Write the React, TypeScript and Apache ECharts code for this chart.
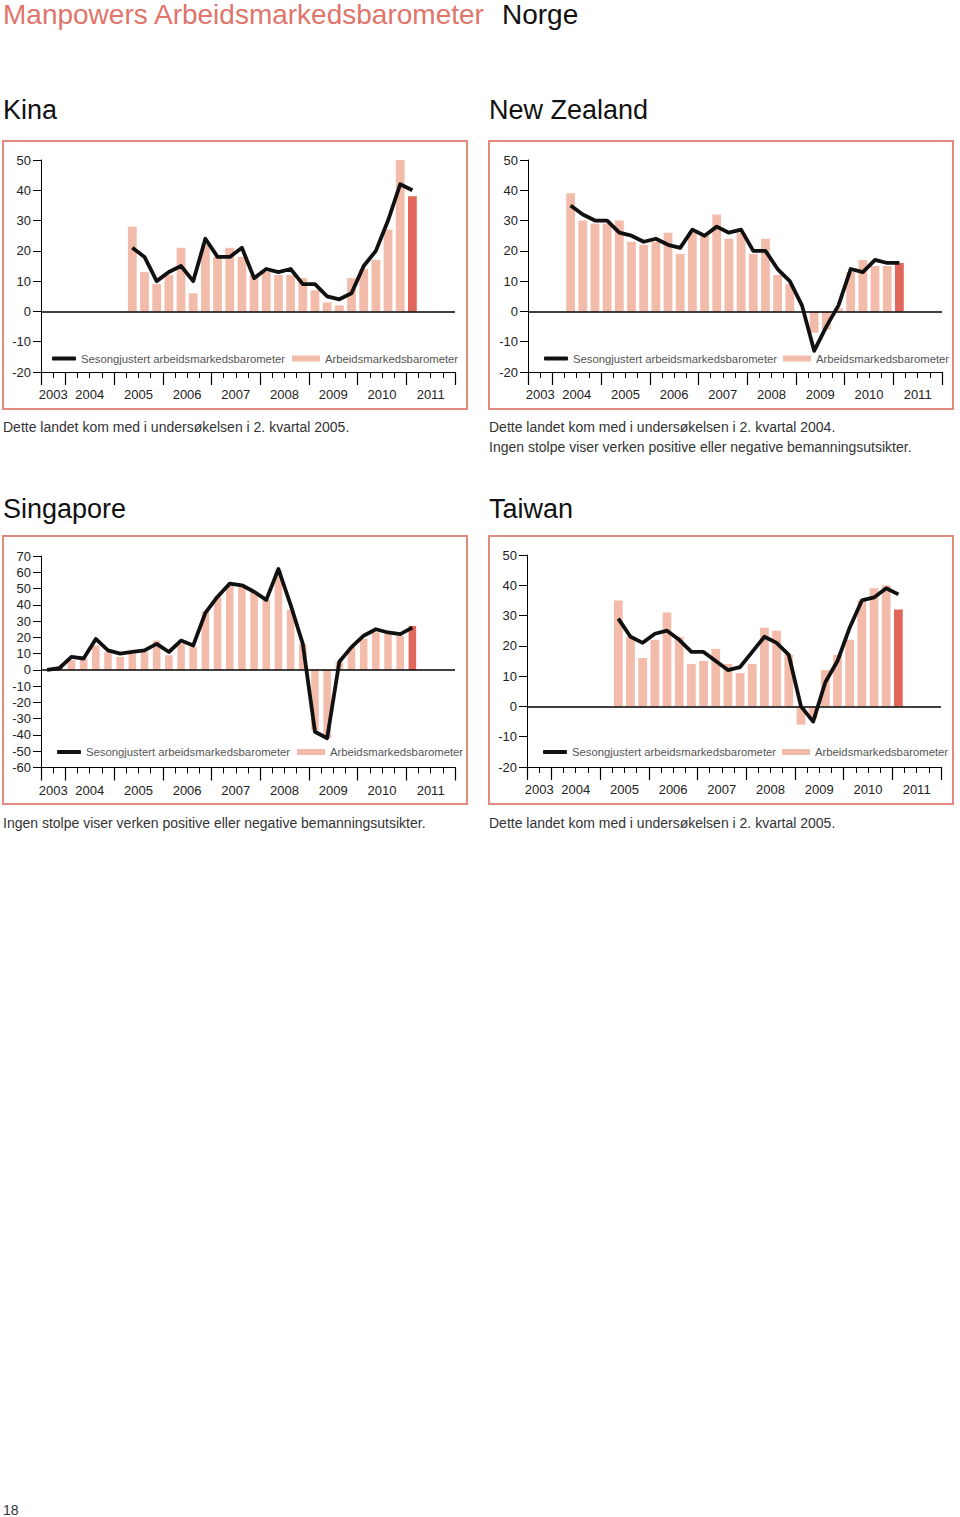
import React, { useEffect, useRef } from "react";
import * as echarts from "echarts";

// ---------- categories ----------
const firstYear = 2003;
const lastYear = 2011;
const firstQuarterOfFirstYear = 3;
const quarterLabels: string[] = [];
for (let y = firstYear; y <= lastYear; y++) {
  for (let q = 1; q <= 4; q++) {
    if (y === firstYear && q < firstQuarterOfFirstYear) continue;
    quarterLabels.push(`${y} K${q}`);
  }
}
const yearLabels = ["2003", "2004", "2005", "2006", "2007", "2008", "2009", "2010", "2011"];
const latestQuarter = "2011 K1";

// ---------- series values ----------
const kinaStart = "2005 K2";
const kinaBars = [28, 13, 9, 12, 21, 6, 22, 18, 21, 18, 12, 13, 12, 12, 11, 7, 3, 2, 11, 14, 17, 27, 51, 38];
const kinaLine = [21, 18, 10, 13, 15, 10, 24, 18, 18, 21, 11, 14, 13, 14, 9, 9, 5, 4, 6, 15, 20, 30, 42, 40];

const nzStart = "2004 K2";
const nzBars = [39, 30, 29, 29, 30, 23, 22, 23, 26, 19, 26, 25, 32, 24, 26, 19, 24, 12, 9, 0, -7, -6, 1, 13, 17, 15, 15, 16];
const nzLine = [35, 32, 30, 30, 26, 25, 23, 24, 22, 21, 27, 25, 28, 26, 27, 20, 20, 14, 10, 2, -13, -5, 2, 14, 13, 17, 16, 16];

const sgStart = "2003 K3";
const sgBars = [0, 2, 6, 7, 15, 11, 8, 10, 11, 18, 9, 16, 14, 36, 45, 52, 51, 48, 43, 61, 37, 16, -37, -42, 5, 14, 19, 23, 23, 21, 27];
const sgLine = [0, 1, 8, 7, 19, 12, 10, 11, 12, 16, 11, 18, 15, 35, 45, 53, 52, 48, 43, 62, 40, 16, -38, -42, 5, 14, 21, 25, 23, 22, 26];

const twStart = "2005 K2";
const twBars = [35, 23, 16, 22, 31, 23, 14, 15, 19, 14, 11, 14, 26, 25, 17, -6, -4, 12, 17, 22, 35, 39, 40, 32];
const twLine = [29, 23, 21, 24, 25, 22, 18, 18, 15, 12, 13, 18, 23, 21, 17, 0, -5, 8, 15, 26, 35, 36, 39, 37];

const lineName = "Sesongjustert arbeidsmarkedsbarometer";
const barName = "Arbeidsmarkedsbarometer";

const mainTitle = "Manpowers Arbeidsmarkedsbarometer";
const mainTitleCountry = "Norge";
const noteJoined2005 = "Dette landet kom med i undersøkelsen i 2. kvartal 2005.";
const noteJoined2004 = "Dette landet kom med i undersøkelsen i 2. kvartal 2004.";
const noteNoBar = "Ingen stolpe viser verken positive eller negative bemanningsutsikter.";
const pageNumber = "18";

const countries = [
  { name: "Kina", start: kinaStart, bars: kinaBars, line: kinaLine, yMin: -20, yMax: 50, notes: [noteJoined2005] },
  { name: "New Zealand", start: nzStart, bars: nzBars, line: nzLine, yMin: -20, yMax: 50, notes: [noteJoined2004, noteNoBar] },
  { name: "Singapore", start: sgStart, bars: sgBars, line: sgLine, yMin: -60, yMax: 70, notes: [noteNoBar] },
  { name: "Taiwan", start: twStart, bars: twBars, line: twLine, yMin: -20, yMax: 50, notes: [noteJoined2005] },
];

// ---------- layout & style ----------
const layouts = [
  { frameX: 3, frameY: 141, gridLeft: 41, gridTop: 160, gridH: 212, titleY: 110, legendY: 358.5, legendLineX: 52, legendBarX: 292, noteY: 427, barW: "72%" },
  { frameX: 489, frameY: 141, gridLeft: 528, gridTop: 160, gridH: 212, titleY: 110, legendY: 358.5, legendLineX: 544, legendBarX: 783, noteY: 427, barW: "72%" },
  { frameX: 3, frameY: 536, gridLeft: 41, gridTop: 556, gridH: 211.5, titleY: 509, legendY: 752, legendLineX: 57, legendBarX: 297, noteY: 823, barW: "62%" },
  { frameX: 489, frameY: 536, gridLeft: 527, gridTop: 555, gridH: 212, titleY: 509, legendY: 752, legendLineX: 543, legendBarX: 782, noteY: 823, barW: "72%" },
];
const GRID_W = 414;
const FRAME_W = 464;
const FRAME_H = 268;
const FONT = "'Liberation Sans', Arial, Helvetica, sans-serif";
const PALE = "#f3bba9";
const DARK = "#e0675a";
const FRAME = "#e38a7e";
const TITLE_RED = "#e0756b";
const TEXT = "#222";

function buildOption() {
  const n = quarterLabels.length;
  const allBounds = Array.from({ length: n + 1 }, (_, i) => i);
  const yearBounds: number[] = [0];
  for (let i = 1; i < n; i++) {
    if (quarterLabels[i].slice(0, 4) !== quarterLabels[i - 1].slice(0, 4)) yearBounds.push(i);
  }
  yearBounds.push(n);
  const yearCenters = yearLabels.map((_, k) => (yearBounds[k] + yearBounds[k + 1]) / 2);
  const yearByCenter = (v: number) => {
    const k = yearCenters.findIndex((c) => Math.abs(c - v) < 1e-6);
    return k >= 0 ? yearLabels[k] : "";
  };
  const latestIdx = quarterLabels.indexOf(latestQuarter);

  const grid: any[] = [];
  const xAxis: any[] = [];
  const yAxis: any[] = [];
  const series: any[] = [];
  const legend: any[] = [];
  const graphic: any[] = [];

  graphic.push({ type: "text", left: 3, top: 0, style: { text: mainTitle, fill: TITLE_RED, font: `28px ${FONT}` } });
  graphic.push({ type: "text", left: 502, top: 0, style: { text: mainTitleCountry, fill: "#111", font: `28px ${FONT}` } });
  graphic.push({ type: "text", left: 3, top: 1503, style: { text: pageNumber, fill: "#333", font: `14px ${FONT}` } });

  countries.forEach((c, g) => {
    const L = layouts[g];
    const s = quarterLabels.indexOf(c.start);
    const barData: any[] = quarterLabels.map((q, i) => {
      const k = i - s;
      if (k < 0 || k >= c.bars.length) return null;
      if (i === latestIdx) return { value: c.bars[k], itemStyle: { color: DARK } };
      return c.bars[k];
    });
    const lineData: any[] = quarterLabels.map((q, i) => {
      const k = i - s;
      if (k < 0 || k >= c.line.length) return null;
      return c.line[k];
    });

    grid.push({ left: L.gridLeft, top: L.gridTop, width: GRID_W, height: L.gridH, containLabel: false });
    xAxis.push({
      type: "category", gridIndex: g, data: quarterLabels, boundaryGap: true, position: "bottom",
      axisLine: { show: true, onZero: false, lineStyle: { color: "#000", width: 1 } },
      axisTick: { show: false }, axisLabel: { show: false }, splitLine: { show: false },
    });
    xAxis.push({
      type: "value", gridIndex: g, min: 0, max: n, position: "bottom",
      axisLine: { show: false, onZero: false },
      axisTick: { show: true, length: 6, customValues: allBounds, lineStyle: { color: "#000", width: 1 } },
      axisLabel: { show: false }, splitLine: { show: false },
    });
    xAxis.push({
      type: "value", gridIndex: g, min: 0, max: n, position: "bottom",
      axisLine: { show: false, onZero: false },
      axisTick: { show: true, length: 13, customValues: yearBounds, lineStyle: { color: "#000", width: 1.2 } },
      axisLabel: { show: true, customValues: yearCenters, formatter: (v: number) => yearByCenter(v), margin: 16, fontSize: 13, color: TEXT, fontFamily: FONT },
      splitLine: { show: false },
    });
    yAxis.push({
      type: "value", gridIndex: g, min: c.yMin, max: c.yMax, interval: 10,
      axisLine: { show: true, onZero: false, lineStyle: { color: "#000", width: 1 } },
      axisTick: { show: true, length: 8, lineStyle: { color: "#000", width: 1 } },
      axisLabel: { margin: 10, fontSize: 13, color: TEXT, fontFamily: FONT },
      splitLine: { show: false },
    });
    series.push({
      type: "bar", name: barName, xAxisIndex: g * 3, yAxisIndex: g, data: barData, barWidth: L.barW,
      itemStyle: { color: PALE }, z: 2,
      markLine: {
        silent: true, symbol: "none", label: { show: false },
        lineStyle: { color: "#000", width: 1.5, type: "solid" },
        data: [{ yAxis: 0 }],
      },
    });
    series.push({
      type: "line", name: lineName, xAxisIndex: g * 3, yAxisIndex: g, data: lineData,
      symbol: "none", showSymbol: false, connectNulls: false,
      lineStyle: { color: "#111", width: 3.8, join: "round", cap: "butt" },
      itemStyle: { color: "#111" }, z: 5,
    });

    legend.push({
      data: [{ name: lineName, icon: "roundRect" }], left: L.legendLineX, top: L.legendY - 7, padding: 0,
      itemWidth: 24, itemHeight: 4, itemStyle: { color: "#111" },
      textStyle: { fontSize: 11.3, color: "#555", fontFamily: FONT, lineHeight: 14 }, selectedMode: false,
    });
    legend.push({
      data: [{ name: barName, icon: "rect" }], left: L.legendBarX, top: L.legendY - 7, padding: 0,
      itemWidth: 28, itemHeight: 6, itemStyle: { color: PALE },
      textStyle: { fontSize: 11.3, color: "#555", fontFamily: FONT, lineHeight: 14 }, selectedMode: false,
    });

    graphic.push({
      type: "rect", shape: { x: L.frameX, y: L.frameY, width: FRAME_W, height: FRAME_H },
      style: { fill: "none", stroke: FRAME, lineWidth: 2 }, z: 0,
    });
    graphic.push({
      type: "text", x: L.frameX, y: L.titleY,
      style: { text: c.name, fill: "#111", font: `27px ${FONT}`, textVerticalAlign: "middle", verticalAlign: "middle" },
    });
    c.notes.forEach((t, k) => {
      graphic.push({
        type: "text", x: L.frameX, y: L.noteY + k * 20,
        style: { text: t, fill: "#333", font: `14px ${FONT}`, verticalAlign: "middle", textVerticalAlign: "middle" },
      });
    });
  });

  return {
    animation: false,
    backgroundColor: "#ffffff",
    textStyle: { fontFamily: FONT },
    grid, xAxis, yAxis, series, legend, graphic,
  };
}

export default function App() {
  const ref = useRef<HTMLDivElement>(null);
  useEffect(() => {
    if (!ref.current) return;
    const chart = echarts.init(ref.current, null, { renderer: "svg" });
    chart.setOption(buildOption() as any);
    return () => chart.dispose();
  }, []);
  return (
    <div
      ref={ref}
      style={{ position: "absolute", left: 0, top: 0, width: 960, height: 1517, background: "#fff" }}
    />
  );
}
